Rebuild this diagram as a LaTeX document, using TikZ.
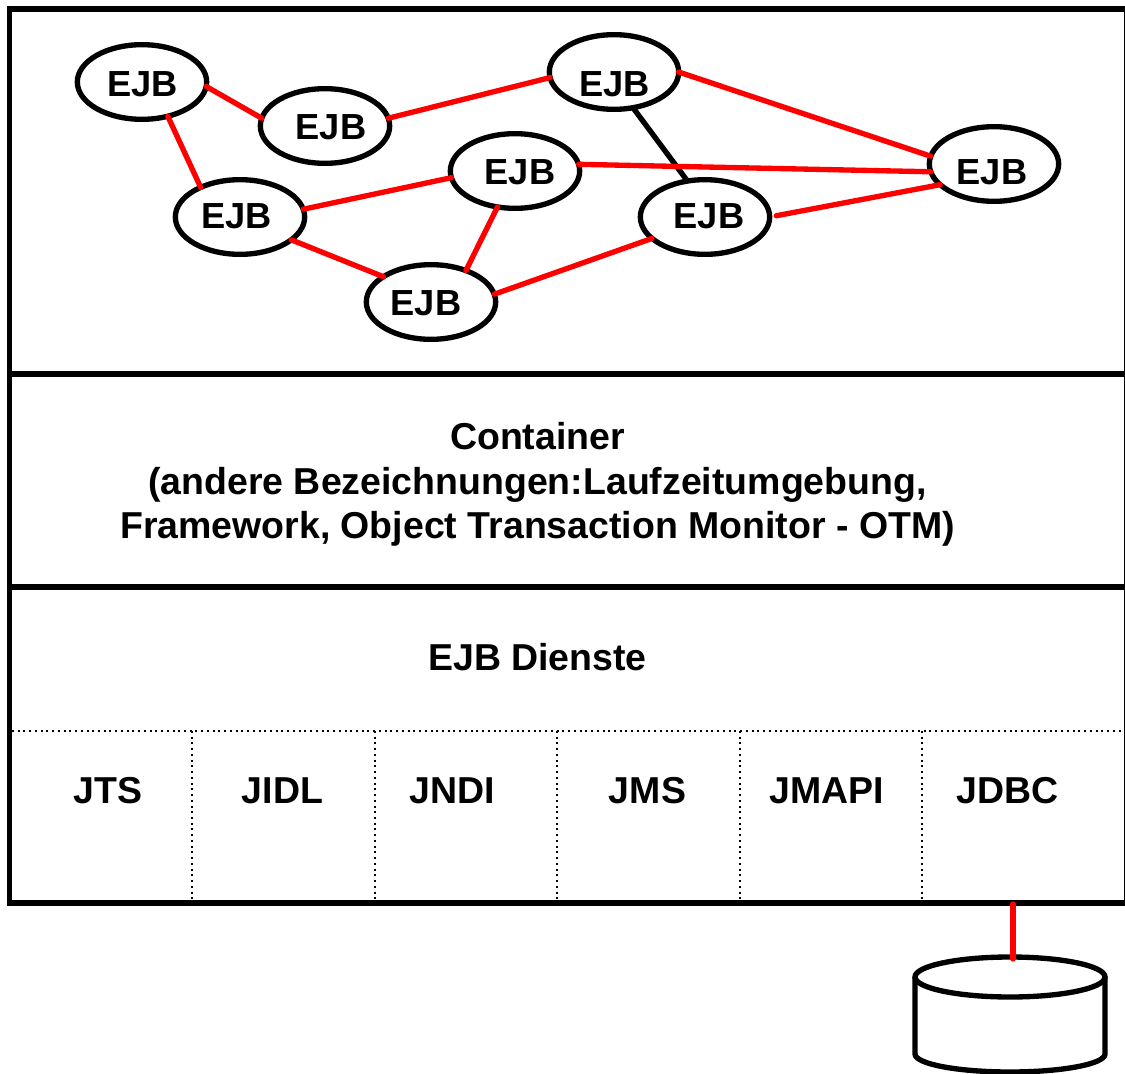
\documentclass[tikz,border=0pt]{standalone}
\usepackage{fontspec}
\setmainfont{Liberation Sans}
\usetikzlibrary{shapes.geometric}
\tikzset{
 ejb/.style={draw=black,fill=white,ellipse,line width=4pt,minimum width=97pt,minimum height=56pt,inner sep=0pt,outer sep=0pt},
 lab/.style={font=\bfseries\fontsize{28.1}{33.4}\selectfont,inner sep=0pt,align=center},
 ejblab/.style={font=\bfseries\fontsize{27.2}{33}\selectfont,inner sep=0pt},
 rl/.style={draw=red,line width=4pt,line cap=round},
 bl/.style={draw=black,line width=4pt},
 dots/.style={draw=black,line width=1.5pt,dash pattern=on 1.5pt off 2.8pt},
 frame/.style={line width=4pt},
 db/.style={line width=4pt,fill=white},
}
\begin{document}
\begin{tikzpicture}[x=0.75pt,y=-0.75pt]
\useasboundingbox (0,0) rectangle (1125,1074);
\node[ejb] (e1) at (142,82) {};
\node[ejb] (e2) at (325,126) {};
\node[ejb] (e3) at (614,72) {};
\node[ejb] (e4) at (240,217) {};
\node[ejb] (e5) at (515,171) {};
\node[ejb] (e6) at (705,217) {};
\node[ejb] (e7) at (431,302) {};
\node[ejb] (e8) at (994,164) {};
\node[ejblab] (t1) at (142.5,84) {EJB};
\node[ejblab] (t2) at (331,127) {EJB};
\node[ejblab] (t3) at (614.5,84) {EJB};
\node[ejblab] (t4) at (236.5,216) {EJB};
\node[ejblab] (t5) at (520,172) {EJB};
\node[ejblab] (t6) at (709,216) {EJB};
\node[ejblab] (t7) at (426,303) {EJB};
\node[ejblab] (t8) at (992,172) {EJB};
\draw[rl] (e1.-4.5) -- (e2.173.7);
\draw[rl] (e1.-53.4) -- (e4.143);
\draw[rl] (e2.7.2) -- (e3.185.4);
\draw[rl] (e3.0) -- (e8.173.8);
\draw[bl] (e3.-62.2) -- (e6.116.6);
\draw[rl] (e5.6.1) -- (e8.187.4);
\draw[rl,shorten <=5pt] (e6.0) -- (e8.201.1);
\draw[rl] (e4.7.1) -- (e5.186.2);
\draw[rl] (e4.-24.7) -- (e7.152.5);
\draw[rl] (e5.244) -- (e7.42.4);
\draw[rl] (e7.7) -- (e6.202.2);
\draw[frame] (9.5,9) -- (1127,9) -- (1127,903) -- (9.5,903) -- cycle;
\draw[frame] (9.5,374) -- (1127,374);
\draw[frame] (9.5,587) -- (1127,587);
\node[lab] (c) at (537.5,484.5) {Container\\(andere Bezeichnungen:Laufzeitumgebung,\\Framework, Object Transaction Monitor - OTM)};
\node[lab] (d) at (537.5,657) {EJB Dienste};
\draw[dots] (12,731) -- (1125,731);
\foreach \x in {192,375,557,740,922} \draw[dots] (\x,731) -- (\x,901);
\node[lab] (j1) at (108,791) {JTS};
\node[lab] (j2) at (282.5,791) {JIDL};
\node[lab] (j3) at (452.5,791) {JNDI};
\node[lab] (j4) at (647.5,791) {JMS};
\node[lab] (j5) at (827,791) {JMAPI};
\node[lab] (j6) at (1007.5,791) {JDBC};
\draw[db] (915,977) -- (915,1054) arc[start angle=180,end angle=0,x radius=95,y radius=18] -- (1105,977);
\node[draw=black,fill=white,ellipse,line width=4pt,minimum width=142.5pt,minimum height=30pt,inner sep=0pt] (dbtop) at (1010,977) {};
\coordinate (dbt) at (1013,904);
\coordinate (dbb) at (1013,959);
\draw[rl] (dbt) -- (dbb);
\end{tikzpicture}
\end{document}
